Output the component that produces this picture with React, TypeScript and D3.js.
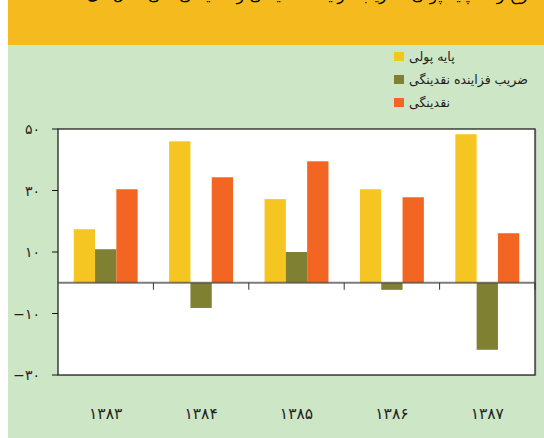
import React from "react";
import * as d3 from "d3";

const categories = ["۱۳۸۳", "۱۳۸۴", "۱۳۸۵", "۱۳۸۶", "۱۳۸۷"];
const seriesNames = ["پایه پولی", "ضریب فزاینده نقدینگی", "نقدینگی"];
const baseMoney = [17.4, 46.0, 27.2, 30.4, 48.3];
const multiplier = [10.9, -8.2, 10.0, -2.3, -21.8];
const liquidity = [30.4, 34.3, 39.5, 27.8, 16.1];
const yTicks = [50, 30, 10, -10, -30];
const yTickLabels = ["۵۰", "۳۰", "۱۰", "−۱۰", "−۳۰"];
const title = "نمودار ۲- نرخ رشد پایه پولی، ضریب فزاینده نقدینگی و نقدینگی طی سال‌های ۱۳۸۳-۱۳۸۷ (درصد)";

const colors = ["#F5C621", "#808033", "#F26522"];
const series = [baseMoney, multiplier, liquidity];

export default function App() {
  const W = 544, H = 438;
  const left = 58, right = 535, top = 129, bottom = 375;
  const font = "'DejaVu Sans', sans-serif";
  const x = d3.scaleBand<string>().domain(categories).range([left, right]).paddingInner(0).paddingOuter(0);
  const y = d3.scaleLinear().domain([-30, 50]).range([bottom, top]);
  const bw = x.bandwidth();
  const groupW = bw * 0.67;
  const inner = d3.scaleBand<number>().domain([0, 1, 2]).range([0, groupW]);
  const y0 = y(0);

  return (
    <svg width={W} height={H} style={{ position: "absolute", left: 0, top: 0, display: "block" }}>
      <rect x={0} y={0} width={W} height={H} fill="#ffffff" />
      <rect x={8} y={45} width={W - 8} height={H - 45} fill="#CDE6C5" />
      <rect x={8} y={0} width={W - 8} height={45} fill="#F5BB1E" />
      <text x={(8 + W) / 2} y={0} textAnchor="middle" direction="rtl" fontFamily={font} fontSize={16} fill="#000">
        {title}
      </text>

      {/* legend */}
      {seriesNames.map((n, i) => (
        <g key={n}>
          <rect x={394} y={52 + i * 23} width={10} height={9} fill={colors[i]} />
          <text x={409} y={61 + i * 23} fontFamily={font} fontSize={12.5} fill="#222" textAnchor="start">
            {n}
          </text>
        </g>
      ))}

      {/* plot area */}
      <rect x={left + 2} y={top + 1} width={right - left} height={bottom - top} fill="#BDBDBD" opacity={0.6} />
      <rect x={left} y={top} width={right - left} height={bottom - top} fill="#ffffff" stroke="#111" strokeWidth={1.2} />

      {/* bars */}
      {categories.map((c, ci) => (
        <g key={c} transform={`translate(${(x(c) as number) + (bw - groupW) / 2},0)`}>
          {series.map((s, si) => {
            const v = s[ci];
            return (
              <rect
                key={si}
                x={inner(si) as number}
                y={Math.min(y(v), y0)}
                width={inner.bandwidth()}
                height={Math.abs(y(v) - y0)}
                fill={colors[si]}
              />
            );
          })}
        </g>
      ))}

      {/* zero line */}
      <line x1={left} x2={right} y1={y0} y2={y0} stroke="#444" strokeOpacity={0.7} strokeWidth={2} />
      {categories.map((c, i) => (
        <line key={c} x1={(x(c) as number) + bw} x2={(x(c) as number) + bw} y1={y0} y2={y0 + 7} stroke="#333" strokeWidth={1} />
      ))}

      {/* y axis ticks */}
      {yTicks.map((t, i) => (
        <g key={t}>
          <line x1={52} x2={left} y1={y(t)} y2={y(t)} stroke="#111" strokeWidth={1} />
          <text x={40} y={y(t) + 5} textAnchor="end" fontFamily={font} fontSize={14} fill="#222">
            {yTickLabels[i]}
          </text>
        </g>
      ))}

      {/* x labels */}
      {categories.map((c) => (
        <text key={c} x={(x(c) as number) + bw / 2} y={419} textAnchor="middle" fontFamily={font} fontSize={15.5} fill="#222">
          {c}
        </text>
      ))}
    </svg>
  );
}
